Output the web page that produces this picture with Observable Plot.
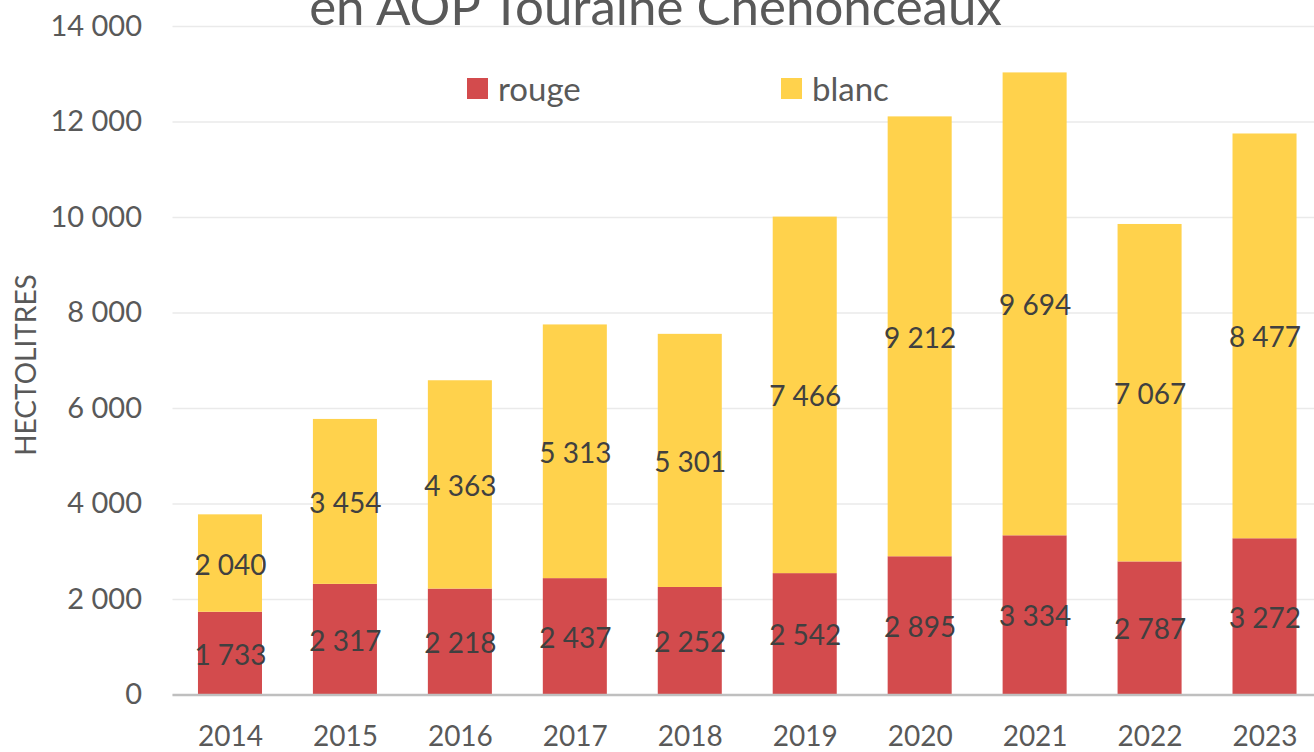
<!DOCTYPE html>
<html>
<head>
<meta charset="utf-8">
<script src="https://cdn.jsdelivr.net/npm/d3@7"></script>
<script src="https://cdn.jsdelivr.net/npm/@observablehq/plot@0.6"></script>
<style>
  html, body { margin: 0; padding: 0; background: #fff; overflow: hidden; width: 1314px; height: 752px; }
  #wrap { position: relative; width: 1314px; height: 752px; overflow: hidden; font-family: Lato, sans-serif; }
  #chart { position: absolute; left: 0; top: 0; width: 1322px; height: 752px; }
  #chart svg { max-width: none !important; width: 1322px; height: 752px; }
  #title { position: absolute; left: 0; width: 1311px; top: -20px; text-align: center; font-size: 51px; line-height: 1; color: #595959; white-space: nowrap; }
  .leg { position: absolute; top: 78px; height: 21px; display: flex; align-items: center; font-size: 33px; color: #595959; }
  .leg .sw { width: 21px; height: 21px; margin-right: 10px; }
  .leg span { line-height: 21px; }
  #ylab { position: absolute; left: 25px; top: 365px; transform: translate(-50%, -50%) rotate(-90deg); font-size: 28px; color: #595959; white-space: nowrap; }
</style>
</head>
<body>
<div id="wrap">
  <div id="chart"></div>
  <div id="title">en AOP Touraine Chenonceaux</div>
  <div class="leg" style="left:467px"><div class="sw" style="background:#D34B4D"></div><span>rouge</span></div>
  <div class="leg" style="left:781px"><div class="sw" style="background:#FFD24C"></div><span>blanc</span></div>
  <div id="ylab">HECTOLITRES</div>
</div>
<script>
const years = ["2014","2015","2016","2017","2018","2019","2020","2021","2022","2023"];
const rouge = [1733, 2317, 2218, 2437, 2252, 2542, 2895, 3334, 2787, 3272];
const blanc = [2040, 3454, 4363, 5313, 5301, 7466, 9212, 9694, 7067, 8477];
const series = ["rouge", "blanc"];
const colors = ["#D34B4D", "#FFD24C"];
const yTicks = [0, 2000, 4000, 6000, 8000, 10000, 12000, 14000];

const data = [];
years.forEach((y, i) => {
  data.push({year: y, type: "rouge", value: rouge[i]});
  data.push({year: y, type: "blanc", value: blanc[i]});
});
const fmt = v => d3.format(",")(v).replace(/,/g, " ");

const chart = Plot.plot({
  width: 1322,
  height: 752,
  marginLeft: 172.5,
  marginRight: 0,
  marginTop: 26,
  marginBottom: 57.5,
  style: {fontFamily: "Lato, sans-serif", background: "transparent", overflow: "visible", maxWidth: "none"},
  x: {domain: years, paddingInner: 0.443, paddingOuter: 0.2215, round: false, label: null},
  y: {domain: [0, 14000], label: null},
  color: {domain: series, range: colors},
  marks: [
    Plot.gridY(yTicks, {stroke: "#EAEAEA", strokeOpacity: 1, strokeWidth: 1.5}),
    Plot.barY(data, {x: "year", y: "value", fill: "type", order: series}),
    Plot.ruleY([0], {stroke: "#BFBFBF", strokeWidth: 2.5}),
    Plot.text(data, Plot.stackY({x: "year", y: "value", z: "type", order: series, text: d => fmt(d.value), fill: "#404040", fontSize: 28, dy: 2})),
    Plot.axisY({ticks: yTicks, tickFormat: fmt, tickSize: 0, tickPadding: 31, fontSize: 29, fill: "#595959", label: null}),
    Plot.axisX({tickSize: 0, tickPadding: 42.5, lineAnchor: "middle", fontSize: 28, fill: "#595959", label: null})
  ]
});
document.getElementById("chart").appendChild(chart);
</script>
</body>
</html>
